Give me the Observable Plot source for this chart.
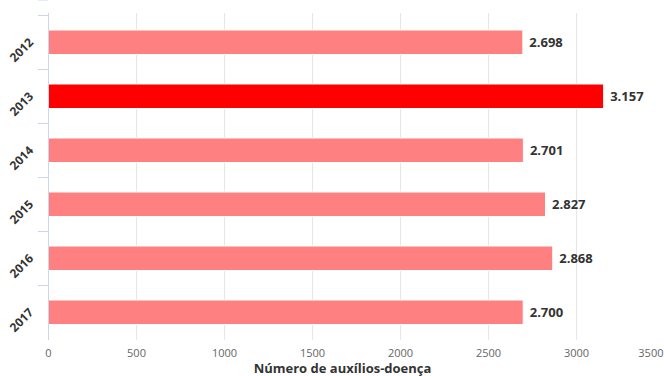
<!DOCTYPE html>
<html>
<head>
<meta charset="utf-8">
<script src="https://cdn.jsdelivr.net/npm/d3@7"></script>
<script src="https://cdn.jsdelivr.net/npm/@observablehq/plot@0.6"></script>
<style>
  html, body { margin: 0; padding: 0; background: #fff; }
  #chart svg { display: block; font-family: "Open Sans", sans-serif; }
</style>
</head>
<body>
<div id="chart"></div>
<script>
const years = ["2012", "2013", "2014", "2015", "2016", "2017"];
const values = [2698, 3157, 2701, 2827, 2868, 2700];
const highlightYear = "2013";
const xTicks = [0, 500, 1000, 1500, 2000, 2500, 3000, 3500];
const xTitle = "Número de auxílios-doença";

const data = years.map((year, i) => ({year, value: values[i]}));
const ptFormat = d3.formatLocale({decimal: ",", thousands: ".", grouping: [3], currency: ["R$", ""]}).format(",");

const W = 664, H = 376;
const mt = 13, mb = 36, ml = 48, mr = 0;

// custom mark: y-axis tick marks at band boundaries
function bandTicks(index, scales, values, dimensions) {
  const g = d3.create("svg:g");
  const y = scales.y;
  const step = (dimensions.height - dimensions.marginTop - dimensions.marginBottom) / years.length;
  const bw = y.bandwidth != null ? y.bandwidth : step;
  const pos = years.map(d => y(d));
  pos.push(y(years[years.length - 1]) + bw);
  for (const p of pos) {
    g.append("line")
      .attr("x1", dimensions.marginLeft - 10).attr("x2", dimensions.marginLeft)
      .attr("y1", p + 0.5).attr("y2", p + 0.5)
      .attr("stroke", "#ccd6eb").attr("stroke-width", 1);
  }
  return g.node();
}

const chart = Plot.plot({
  width: W,
  height: H,
  marginTop: mt,
  marginBottom: mb,
  marginLeft: ml,
  marginRight: mr,
  style: {fontFamily: "'Open Sans', sans-serif", background: "#fff"},
  x: {domain: [0, 3500], axis: null},
  y: {domain: years, padding: 0, axis: null},
  marks: [
    Plot.ruleX(xTicks.slice(1, -1), {stroke: "#e6e6e6", strokeWidth: 1}),
    Plot.barX(data, {
      y: "year", x: "value",
      fill: d => d.year === highlightYear ? "#ff0000" : "#ff8080",
      stroke: "#ffffff", strokeWidth: 1,
      insetTop: 15, insetBottom: 14.5
    }),
    Plot.ruleX([0], {stroke: "#ccd6eb", strokeWidth: 1}),
    bandTicks,
    Plot.text(data, {
      y: "year", x: "value",
      text: d => ptFormat(d.value),
      dx: 6, textAnchor: "start",
      fontWeight: "bold", fontSize: 13, fill: "#333333"
    }),
    Plot.text(years, {
      y: d => d, text: d => d,
      frameAnchor: "left", dx: -17, dy: -2,
      rotate: -45, textAnchor: "end", lineAnchor: "middle",
      fontWeight: "bold", fontSize: 12, fill: "#333333"
    }),
    Plot.text(xTicks.slice(0, -1), {
      x: d => d, text: d => String(d),
      frameAnchor: "bottom", dy: 12.5, lineAnchor: "middle",
      fontSize: 11, fill: "#666666"
    }),
    Plot.text(xTicks.slice(-1), {
      x: d => d, text: d => String(d),
      frameAnchor: "bottom", dy: 12.5, dx: -1, lineAnchor: "middle", textAnchor: "end",
      fontSize: 11, fill: "#666666"
    }),
    Plot.text([xTitle], {
      text: d => d,
      frameAnchor: "bottom", dx: -14, dy: 28, lineAnchor: "middle",
      fontWeight: "bold", fontSize: 13, fill: "#333333"
    })
  ]
});

document.getElementById("chart").appendChild(chart);
</script>
</body>
</html>
